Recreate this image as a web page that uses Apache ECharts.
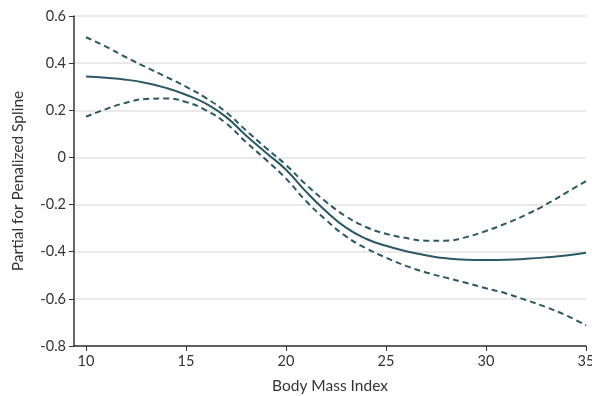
<!DOCTYPE html>
<html>
<head>
<meta charset="utf-8">
<script src="https://cdn.jsdelivr.net/npm/echarts@6/dist/echarts.min.js"></script>
<style>html,body{margin:0;padding:0;background:#fff;}#c{width:592px;height:396px;}</style>
</head>
<body>
<div id="c"></div>
<script>
var bmi = [10,11,12,13,14,15,16,17,18,19,20,21,22,23,24,25,26,27,28,29,30,31,32,33,34,35];
var estimate = [0.343,0.338,0.330,0.316,0.295,0.266,0.228,0.172,0.093,0.020,-0.052,-0.145,-0.228,-0.298,-0.345,-0.375,-0.398,-0.415,-0.428,-0.434,-0.435,-0.434,-0.430,-0.424,-0.416,-0.404];
var upper = [0.510,0.470,0.425,0.383,0.342,0.300,0.252,0.192,0.115,0.040,-0.032,-0.115,-0.188,-0.250,-0.295,-0.324,-0.342,-0.353,-0.353,-0.338,-0.312,-0.280,-0.243,-0.200,-0.150,-0.100];
var lower = [0.173,0.205,0.232,0.248,0.250,0.235,0.200,0.145,0.065,-0.010,-0.090,-0.185,-0.265,-0.335,-0.385,-0.425,-0.460,-0.488,-0.510,-0.532,-0.555,-0.577,-0.605,-0.635,-0.670,-0.712];
var xTicks = [10,15,20,25,30,35];

function pairs(ys){ return bmi.map(function(x,i){ return [x, ys[i]]; }); }
var col = '#2a5865';
var font = 'Lato';
var chart = echarts.init(document.getElementById('c'));
chart.setOption({
  animation: false,
  grid: {left: 74, right: 6, top: 16, bottom: 50, outerBoundsMode: 'none', containLabel: false},
  xAxis: {
    type: 'value', min: 9.4, max: 35,
    name: 'Body Mass Index', nameLocation: 'middle', nameGap: 32,
    nameTextStyle: {fontFamily: font, fontSize: 15.5, color: '#333'},
    axisLine: {onZero: false, lineStyle: {color: '#333', width: 1.5}},
    axisTick: {show: true, length: 5, lineStyle: {color: '#333'}, customValues: xTicks},
    axisLabel: {fontFamily: font, fontSize: 14.5, color: '#333', margin: 8, customValues: xTicks},
    splitLine: {show: false}
  },
  yAxis: {
    type: 'value', min: -0.8, max: 0.6, interval: 0.2,
    name: 'Partial for Penalized Spline', nameLocation: 'middle', nameGap: 48,
    nameTextStyle: {fontFamily: font, fontSize: 15.5, color: '#333'},
    axisLine: {show: true, lineStyle: {color: '#333', width: 1.5}},
    axisTick: {show: true, length: 5, lineStyle: {color: '#333'}},
    axisLabel: {fontFamily: font, fontSize: 14.5, color: '#333', margin: 8,
      formatter: function(v){ return String(Math.round(v*10)/10); }},
    splitLine: {show: true, lineStyle: {color: '#e2e2e2', width: 1.5}}
  },
  series: [
    {type: 'line', data: pairs(upper), smooth: 0.5, symbol: 'none',
      lineStyle: {color: col, width: 2, type: [6, 4]}},
    {type: 'line', data: pairs(estimate), smooth: 0.5, symbol: 'none',
      lineStyle: {color: col, width: 2}},
    {type: 'line', data: pairs(lower), smooth: 0.5, symbol: 'none',
      lineStyle: {color: col, width: 2, type: [6, 4]}}
  ]
});
</script>
</body>
</html>
